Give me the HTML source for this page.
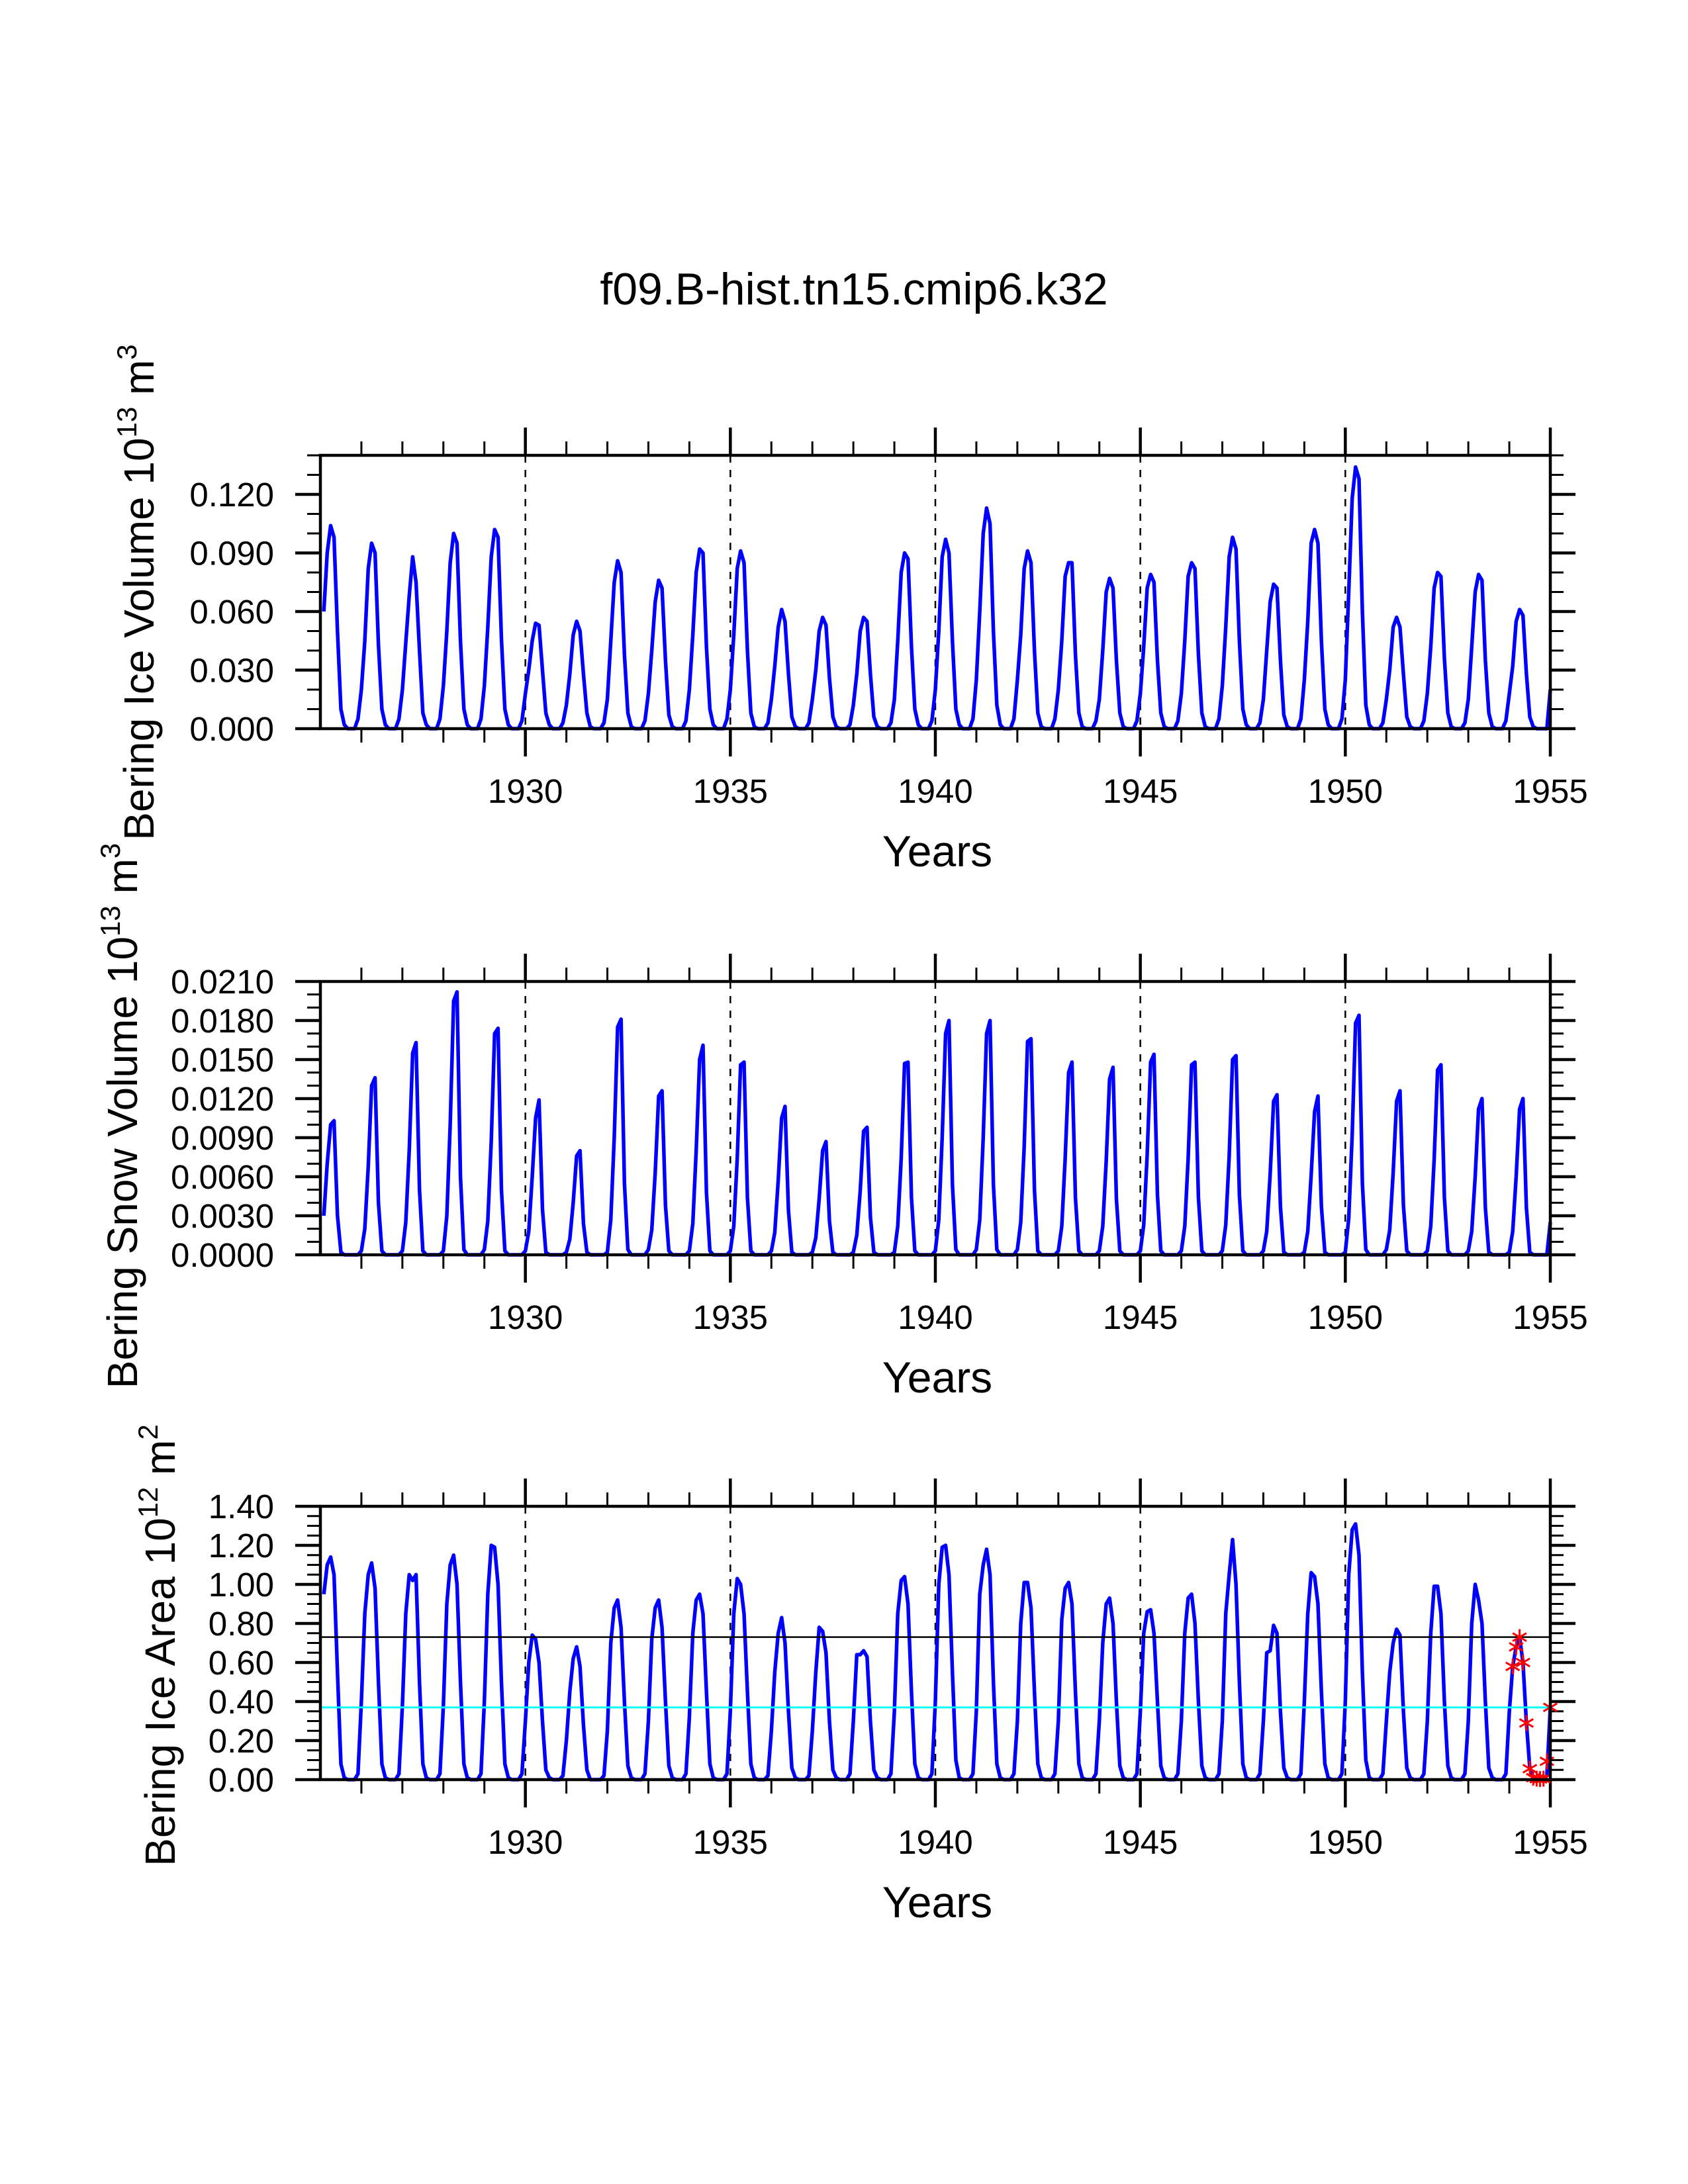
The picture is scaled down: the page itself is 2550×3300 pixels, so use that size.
<!DOCTYPE html>
<html><head><meta charset="utf-8"><style>html,body{margin:0;padding:0;background:#fff}svg{display:block}</style></head>
<body>
<svg id="chart" xmlns="http://www.w3.org/2000/svg" width="2550" height="3300" viewBox="0 0 2550 3300" font-family="'Liberation Sans', sans-serif">
<rect x="0" y="0" width="2550" height="3300" fill="#fff"/>
<text x="1290" y="460" font-size="68" text-anchor="middle">f09.B-hist.tn15.cmip6.k32</text>
<g id="plots"></g>
</svg>
<script>
// Ice volume, units of 0.001 x 10^13 m^3, monthly Jan..Dec 1925-1954
const iceVolume = [
60,90,104,98,50,10,2,0,0,0,5,20, 45,82,95,90,43,10,2,0,0,0,5,20, 44,68,88,75,40,8,2,0,0,0,5,22,
50,85,100,95,45,10,2,0,0,0,5,22, 52,88,102,98,46,10,2,0,0,0,4,18, 30,45,54,53,30,8,2,0,0,0,3,12,
28,48,55,50,28,8,1,0,0,0,3,15, 45,75,86,80,38,8,1,0,0,0,4,18, 40,65,76,72,35,7,1,0,0,0,4,20,
48,80,92,90,42,10,2,0,0,0,5,20, 48,82,91,85,40,8,1,0,0,0,3,15, 32,52,61,55,28,6,1,0,0,0,3,15,
30,50,57,53,26,6,1,0,0,0,2,12, 28,50,57,55,28,6,1,0,0,0,3,15, 45,80,90,87,42,10,2,0,0,0,4,20,
50,88,97,90,45,10,2,0,0,0,5,25, 60,100,113,105,50,12,2,0,0,0,5,25, 48,82,91,85,40,8,1,0,0,0,5,20,
45,78,85,85,38,8,1,0,0,0,4,15, 40,70,77,72,35,8,1,0,0,0,4,18, 42,72,79,75,35,8,1,0,0,0,4,18,
45,78,85,82,38,8,1,0,0,0,5,22, 52,88,98,92,45,10,2,0,0,0,3,15, 40,65,74,72,35,7,1,0,0,0,5,25,
55,95,102,95,45,10,2,0,0,0,5,25, 70,118,134,128,60,12,2,0,0,0,3,15, 30,52,57,52,28,6,1,0,0,0,4,18,
42,72,80,78,36,8,1,0,0,0,3,15, 42,70,79,76,35,8,1,0,0,0,4,18, 32,55,61,58,28,6,1,0,0,0,0,20];
// Snow volume, units of 0.0001 x 10^13 m^3
const snowVolume = [
30,70,100,103,30,2,0,0,0,0,0,3, 20,68,130,136,40,3,0,0,0,0,0,3, 25,80,155,163,50,3,0,0,0,0,0,3,
30,100,195,202,60,4,0,0,0,0,0,4, 26,87,170,174,50,3,0,0,0,0,0,3, 18,60,105,119,35,2,0,0,0,0,0,2,
12,40,76,80,24,2,0,0,0,0,0,2, 27,90,175,181,55,4,0,0,0,0,0,4, 19,63,122,126,38,3,0,0,0,0,0,3,
24,80,150,161,48,3,0,0,0,0,0,3, 22,74,146,148,44,3,0,0,0,0,0,3, 17,57,105,114,34,2,0,0,0,0,0,2,
13,43,80,87,26,2,0,0,0,0,0,2, 15,49,95,98,29,2,0,0,0,0,0,2, 22,74,147,148,44,3,0,0,0,0,0,3,
27,90,170,180,54,4,0,0,0,0,0,4, 27,90,170,180,54,4,0,0,0,0,0,4, 25,83,164,166,50,3,0,0,0,0,0,3,
22,74,140,148,44,3,0,0,0,0,0,3, 22,72,135,144,43,3,0,0,0,0,0,3, 23,77,148,154,46,3,0,0,0,0,0,3,
22,74,146,148,44,3,0,0,0,0,0,3, 23,76,150,153,46,3,0,0,0,0,0,3, 18,62,118,123,37,2,0,0,0,0,0,2,
18,61,110,122,37,2,0,0,0,0,0,2, 28,92,178,184,55,4,0,0,0,0,0,4, 19,63,118,126,38,3,0,0,0,0,0,3,
22,73,142,146,44,3,0,0,0,0,0,3, 18,60,112,120,36,2,0,0,0,0,0,2, 18,60,112,120,36,2,0,0,0,0,0,25];
// Ice area, units of 0.01 x 10^12 m^2
const iceArea = [
95,110,114,105,55,8,1,0,0,0,3,40, 85,105,111,98,50,8,1,0,0,0,3,38, 85,105,102,105,50,8,1,0,0,0,3,38,
90,110,115,100,50,8,1,0,0,0,3,40, 95,120,119,100,50,8,1,0,0,0,3,30, 60,74,72,60,30,5,1,0,0,0,2,20,
45,62,68,58,28,5,0,0,0,0,2,25, 70,88,92,78,40,7,1,0,0,0,3,30, 72,88,92,78,40,7,1,0,0,0,3,32,
75,92,95,85,45,8,1,0,0,0,3,35, 85,103,100,85,45,8,1,0,0,0,2,25, 55,75,83,70,35,6,1,0,0,0,2,25,
55,78,76,65,30,5,1,0,0,0,3,30, 64,64,66,63,30,5,1,0,0,0,3,35, 85,102,104,90,45,8,1,0,0,0,3,40,
100,119,120,105,55,10,1,0,0,0,3,35, 95,110,118,105,50,8,1,0,0,0,3,30, 80,101,101,88,45,8,1,0,0,0,3,30,
82,98,101,90,45,8,1,0,0,0,3,30, 70,90,93,80,40,7,1,0,0,0,3,35, 75,86,87,75,40,7,1,0,0,0,3,30,
75,93,95,80,40,7,1,0,0,0,3,30, 85,105,123,100,50,8,1,0,0,0,3,30, 65,66,79,75,35,6,1,0,0,0,3,40,
85,106,104,90,45,8,1,0,0,0,3,40, 105,128,131,115,55,10,1,0,0,0,3,30, 55,70,77,74,35,6,1,0,0,0,3,30,
75,99,99,85,40,7,1,0,0,0,3,30, 80,100,92,80,40,6,1,0,0,0,3,35, 58,68,73,60,29,6,1,0,0,0,2,37];
const markerValues = [0.58,0.68,0.73,0.60,0.29,0.056,0.01,0.005,0.003,0.005,0.094,0.37];
const refLineMax = [0.73];
const refLineMean = [0.37];
const xTickYears = [1930,1935,1940,1945,1950,1955];
const dashYears = [1930,1935,1940,1945,1950];
const ticks1 = ["0.000","0.030","0.060","0.090","0.120"];
const ticks2 = ["0.0000","0.0030","0.0060","0.0090","0.0120","0.0150","0.0180","0.0210"];
const ticks3 = ["0.00","0.20","0.40","0.60","0.80","1.00","1.20","1.40"];

const NS = "http://www.w3.org/2000/svg";
const root = document.getElementById('plots');
const X0 = 484, X1 = 2342, T0 = 1925, T1 = 1955, H = 413;
const xs = t => X0 + (t - T0) / (T1 - T0) * (X1 - X0);
function mk(tag, attrs, parent) {
  const e = document.createElementNS(NS, tag);
  for (const k in attrs) e.setAttribute(k, attrs[k]);
  (parent || root).appendChild(e);
  return e;
}

function panel(top, ymax, majorStep, minorStep, tickLabels, series, scale, name, titleParts, tx, ty) {
  const g = mk('g', {});
  
  
  const bot = top + H;
  const ys = v => bot - v / ymax * H;
  dashYears.forEach(yr => {
    const l = mk('line', {x1: xs(yr), x2: xs(yr), y1: top, y2: bot, stroke: '#000', 'stroke-width': 2.5, 'stroke-dasharray': '11,11'}, g);
    
    
  });
  for (let yr = T0 + 1; yr <= T1; yr++) {
    const major = yr % 5 === 0;
    const len = major ? 42 : 21;
    const t1 = mk('line', {x1: xs(yr), x2: xs(yr), y1: top, y2: top - len, stroke: '#000', 'stroke-width': major ? 4.5 : 3}, g);
    
    
    const t2 = mk('line', {x1: xs(yr), x2: xs(yr), y1: bot, y2: bot + len, stroke: '#000', 'stroke-width': major ? 4.5 : 3}, g);
    
    
  }
  const nMinor = Math.round(ymax / minorStep);
  for (let i = 0; i <= nMinor; i++) {
    const v = i * minorStep;
    const major = Math.abs(v / majorStep - Math.round(v / majorStep)) < 1e-6;
    const len = major ? 38 : 20;
    const y = ys(v);
    const a = mk('line', {x1: X0, x2: X0 - len, y1: y, y2: y, stroke: '#000', 'stroke-width': major ? 4.5 : 3}, g);
    
    
    const b = mk('line', {x1: X1, x2: X1 + len, y1: y, y2: y, stroke: '#000', 'stroke-width': major ? 4.5 : 3}, g);
    
    
  }
  tickLabels.forEach((lab, i) => {
    const t = mk('text', {x: 414, y: ys(i * majorStep) + 18, 'font-size': 51, 'text-anchor': 'end'}, g);
    t.textContent = lab;
    
    
  });
  xTickYears.forEach(yr => {
    const t = mk('text', {x: xs(yr), y: bot + 112, 'font-size': 51, 'text-anchor': 'middle'}, g);
    t.textContent = yr;
    
    
  });
  const xl = mk('text', {x: 1416, y: bot + 208, 'font-size': 66, 'text-anchor': 'middle'}, g);
  xl.textContent = 'Years';
  
  
  const yt = mk('text', {x: 0, y: 0, 'font-size': 64, 'text-anchor': 'middle', transform: `translate(${tx},${ty}) rotate(-90)`}, g);
  
  
  titleParts.forEach(p => {
    const s = mk('tspan', p[1] ? {'font-size': 42, dy: -26} : {dy: p[2] || 0}, yt);
    s.textContent = p[0];
  });
  let d = '';
  series.forEach((v, i) => {
    const t = T0 + (i + 1) / 12;
    d += (i ? 'L' : 'M') + xs(t).toFixed(1) + ',' + ys(v * scale).toFixed(1);
  });
  const p = mk('path', {d: d, fill: 'none', stroke: '#0000ff', 'stroke-width': 5.5, 'stroke-linejoin': 'round'}, g);
  
  
  return {g, ys, bot};
}

panel(688, 0.14, 0.03, 0.01, ticks1, iceVolume, 0.001, 'ice-volume',
  [['Bering Ice Volume 10'], ['13', true], [' m', false, 26], ['3', true]], 232, 895);
panel(1483, 0.021, 0.003, 0.001, ticks2, snowVolume, 0.0001, 'snow-volume',
  [['Bering Snow Volume 10'], ['13', true], [' m', false, 26], ['3', true]], 207, 1686);
const p3 = panel(2276, 1.4, 0.2, 0.05, ticks3, iceArea, 0.01, 'ice-area',
  [['Bering Ice Area 10'], ['12', true], [' m', false, 26], ['2', true]], 264, 2486);

refLineMax.forEach(v => {
  const l = mk('line', {x1: X0, x2: X1, y1: p3.ys(v), y2: p3.ys(v), stroke: '#000', 'stroke-width': 2.5}, p3.g);
  
  
});
refLineMean.forEach(v => {
  const l = mk('line', {x1: X0, x2: X1, y1: p3.ys(v), y2: p3.ys(v), stroke: '#00ffff', 'stroke-width': 3}, p3.g);
  
  
});
markerValues.forEach((v, m) => {
  const cx = xs(1954 + (m + 1) / 12), cy = p3.ys(v);
  const mg = mk('g', {stroke: '#ff0000', 'stroke-width': 3}, p3.g);
  
  
  const r = 12;
  [90, 30, 150].forEach(a => {
    const rad = a * Math.PI / 180;
    mk('line', {x1: cx - r * Math.cos(rad), y1: cy - r * Math.sin(rad), x2: cx + r * Math.cos(rad), y2: cy + r * Math.sin(rad)}, mg);
  });
});

[688, 1483, 2276].forEach(top => {
  const f = mk('rect', {x: X0, y: top, width: X1 - X0, height: H, fill: 'none', stroke: '#000', 'stroke-width': 4.5});
  
  
});
</script>
</body></html>
